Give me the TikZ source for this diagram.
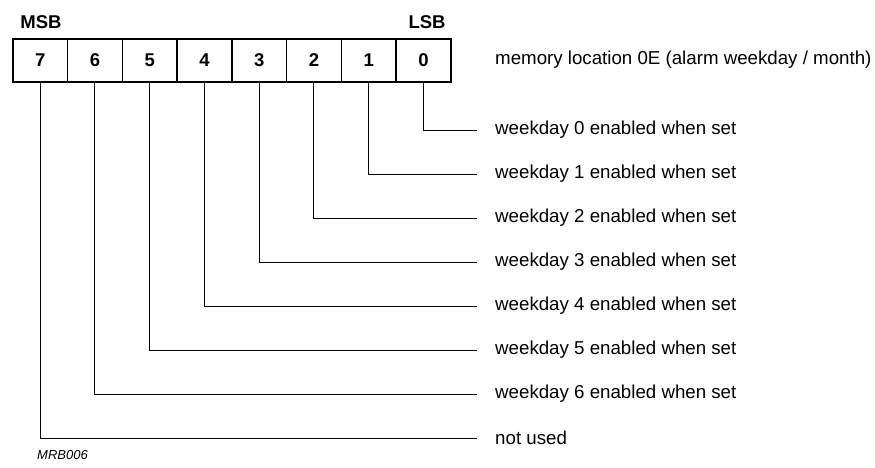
\documentclass[tikz,border=0pt]{standalone}
\usepackage{fontspec}
\setmainfont{Liberation Sans}
\begin{document}
\begin{tikzpicture}[x=1pt,y=-1pt,
  cell/.style={draw,line width=1.6pt,minimum width=54.75pt,minimum height=43pt,inner sep=0pt,
    font=\fontsize{18.5}{20}\selectfont\bfseries,anchor=north west},
  lbl/.style={anchor=west,inner sep=0pt,font=\fontsize{18.7}{20}\selectfont},
  wire/.style={line width=0.9pt}]
\useasboundingbox (0,0) rectangle (875,467);
\foreach \b [count=\k from 0] in {7,6,5,4,3,2,1,0}{
  \node[cell] (c\b) at ({12+54.75*\k},38) {\b};
}
\node[font=\fontsize{18.5}{20}\selectfont\bfseries] (msb) at (41,22) {MSB};
\node[font=\fontsize{18.5}{20}\selectfont\bfseries] (lsb) at (427,22) {LSB};
\node[lbl] (mem) at (495,59.5) {memory location 0E (alarm weekday / month)};
\foreach \b/\t in {0/weekday 0 enabled when set,1/weekday 1 enabled when set,
  2/weekday 2 enabled when set,3/weekday 3 enabled when set,4/weekday 4 enabled when set,
  5/weekday 5 enabled when set,6/weekday 6 enabled when set,7/not used}{
  \coordinate (e\b) at (477,{130+44*\b});
  \node[lbl] (t\b) at (495,{130+44*\b}) {\t};
  \draw[wire] (c\b.south) |- (e\b);
}
\node[anchor=west,inner sep=0pt,font=\fontsize{13}{15}\selectfont\itshape] (id) at (37,455) {MRB006};
\end{tikzpicture}
\end{document}
